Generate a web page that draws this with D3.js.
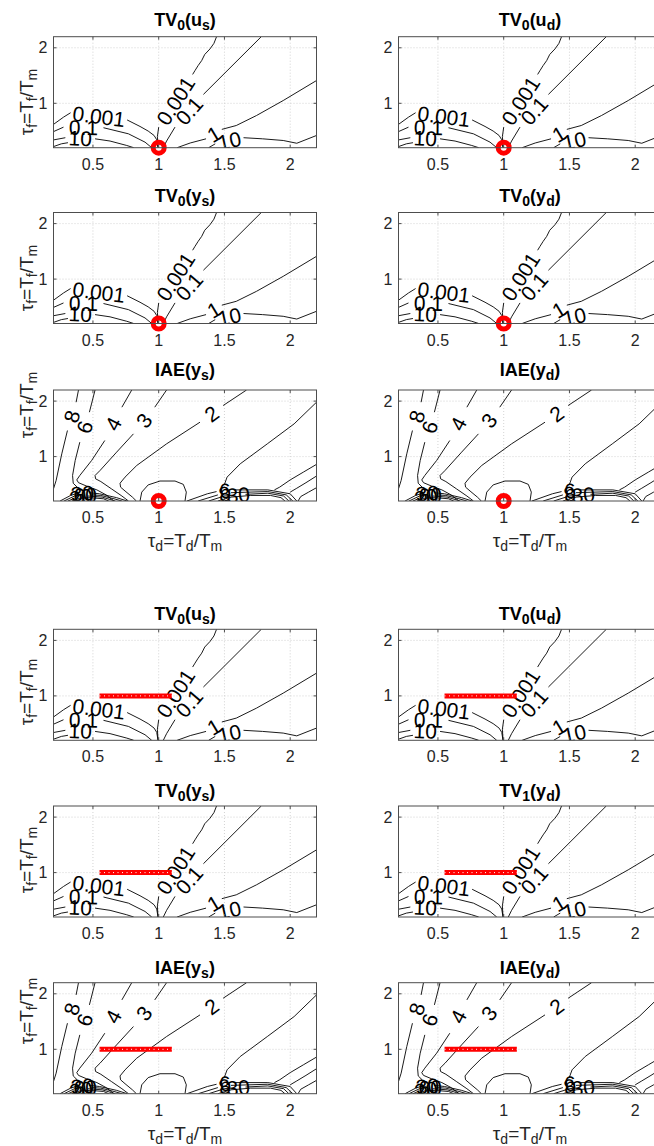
<!DOCTYPE html>
<html>
<head>
<meta charset="utf-8">
<script src="https://cdn.jsdelivr.net/npm/d3@7"></script>
<style>
  body { margin: 0; background: #fff; }
  text { font-family: "Liberation Sans", Arial, Helvetica, sans-serif; }
</style>
</head>
<body>
<svg id="fig" width="654" height="1146"></svg>
<script>
// axis setup (same for every panel)
const axisDomain = [0.2, 2.2];
const xTicks = [0.5, 1, 1.5, 2];
const yTicks = [1, 2];

// panel titles, row by row (left, right)
const titleNames   = ["TV", "TV", "TV", "TV", "IAE", "IAE", "TV", "TV", "TV", "TV", "IAE", "IAE"];
const titleOrders  = ["0", "0", "0", "0", "", "", "0", "0", "0", "1", "", ""];
const titleSignals = ["u", "u", "y", "y", "y", "y", "u", "u", "y", "y", "y", "y"];
const titleSubs    = ["s", "d", "s", "d", "s", "d", "s", "d", "s", "d", "s", "d"];
const panelKinds   = ["tv", "tv", "tv", "tv", "iae", "iae", "tv", "tv", "tv", "tv", "iae", "iae"];

// tuning marks: a single point (upper group), a range of tau_d at tau_f = 1 (lower group)
const tuningPoint = [1, 0.2];
const tuningRange = [[0.55, 1], [1.1, 1]];

// contour lines, points are [tau_d, tau_f]; null = gap where the level label sits
const tvContours = [
  { level: "0.001", pts: [[1.44, 2.2], [1.42, 2.08], [1.39, 1.98], [1.35, 1.88], [1.327, 1.77], [1.30, 1.68], [1.276, 1.59], [1.258, 1.52], null, [1.0, 0.57], [0.99, 0.40], [0.995, 0.2]] },
  { level: "0.1", pts: [[1.78, 2.2], [1.34, 1.16], null, [1.124, 0.571], [1.06, 0.32], [1.035, 0.2]] },
  { level: "1", pts: [[2.2, 1.41], [1.947, 1.05], [1.744, 0.78], [1.59, 0.60], [1.48, 0.53], null, [1.36, 0.36], [1.24, 0.285], [1.14, 0.2]] },
  { level: "10", pts: [[2.2, 0.42], [2.05, 0.28], [1.947, 0.33], [1.79, 0.36], [1.645, 0.38], null, [1.43, 0.27], [1.38, 0.2]] },
  { level: "0.001", pts: [[0.2, 0.62], [0.276, 0.75], [0.33, 0.83], null, [0.76, 0.70], [0.858, 0.583], [0.92, 0.50], [0.965, 0.42], [0.985, 0.343], [0.995, 0.2]] },
  { level: "0.1", pts: [[0.2, 0.49], [0.276, 0.57], null, [0.58, 0.56], [0.77, 0.45], [0.896, 0.30], [0.947, 0.2]] },
  { level: "10", pts: [[0.2, 0.34], [0.29, 0.38], null, [0.516, 0.36], [0.63, 0.32], [0.757, 0.24], [0.81, 0.2]] },
  { level: "", pts: [[0.2, 0.22], [0.26, 0.27], [0.31, 0.29]] }
];

const iaeContours = [
  { level: "8", pts: [[0.39, 2.2], [0.372, 1.98], null, [0.306, 1.47], [0.263, 1.05], [0.22, 0.57], [0.2, 0.42]] },
  { level: "6", pts: [[0.516, 2.2], [0.473, 1.80], null, [0.40, 1.26], [0.365, 0.93], [0.345, 0.66], [0.35, 0.52], [0.38, 0.45]] },
  { level: "4", pts: [[0.795, 2.2], [0.72, 1.89], null, [0.59, 1.29], [0.49, 0.93], [0.40, 0.66], [0.377, 0.58], [0.39, 0.53], [0.45, 0.47], [0.53, 0.40], [0.60, 0.31], [0.66, 0.2]] },
  { level: "3", pts: [[1.06, 2.2], [0.97, 1.89], null, [0.808, 1.41], [0.68, 1.08], [0.554, 0.75], [0.516, 0.66], [0.52, 0.60], [0.56, 0.55], [0.64, 0.42], [0.72, 0.29], [0.77, 0.2]] },
  { level: "2", pts: [[1.668, 2.2], [1.49, 1.92], null, [1.314, 1.62], [1.06, 1.23], [0.833, 0.84], [0.744, 0.63], [0.706, 0.52], [0.71, 0.45], [0.744, 0.38], [0.80, 0.27], [0.83, 0.2]] },
  { level: "", pts: [[0.858, 0.2], [0.871, 0.36], [0.92, 0.49], [1.01, 0.56], [1.124, 0.56], [1.187, 0.50], [1.21, 0.36], [1.2, 0.2]] },
  { level: "", pts: [[2.2, 1.98], [2.03, 1.59], [1.826, 1.23], [1.62, 0.87], [1.52, 0.63], [1.5, 0.5]] },
  { level: "6", pts: [[1.215, 0.2], [1.37, 0.33], [1.44, 0.37], null, [1.57, 0.40], [1.83, 0.40], [2.0, 0.33], [2.05, 0.2]] },
  { level: "8", pts: [[1.30, 0.2], [1.45, 0.31], null, [1.55, 0.35], [1.83, 0.37], [1.97, 0.31], [2.02, 0.2]] },
  { level: "30", pts: [[1.38, 0.2], [1.5, 0.29], [1.55, 0.30], null, [1.66, 0.32], [1.83, 0.34], [1.95, 0.29], [1.99, 0.2]] },
  { level: "", pts: [[1.45, 0.2], [1.55, 0.27], [1.7, 0.30], [1.85, 0.30], [1.93, 0.26], [1.96, 0.2]] },
  { level: "", pts: [[2.2, 0.86], [2.1, 0.72], [2.0, 0.58], [1.92, 0.45], [1.88, 0.40]] },
  { level: "", pts: [[2.2, 0.65], [2.12, 0.53], [2.05, 0.43], [2.0, 0.36]] },
  { level: "", pts: [[2.2, 0.44], [2.14, 0.36], [2.08, 0.28], [2.06, 0.2]] },
  { level: "30", pts: [[0.25, 0.2], [0.33, 0.30], [0.37, 0.33], null, [0.47, 0.35], [0.55, 0.33], [0.68, 0.26], [0.76, 0.2]] },
  { level: "60", pts: [[0.28, 0.2], [0.36, 0.29], [0.39, 0.30], null, [0.49, 0.31], [0.56, 0.30], [0.66, 0.24], [0.72, 0.2]] },
  { level: "20", pts: [[0.31, 0.2], [0.36, 0.25], null, [0.46, 0.29], [0.57, 0.27], [0.64, 0.22], [0.67, 0.2]] },
  { level: "", pts: [[0.34, 0.2], [0.40, 0.25], [0.48, 0.26], [0.58, 0.24], [0.62, 0.2]] }
];

// layout
const colLeft = [53.5, 398.5];
const rowTop = [36.7, 212.5, 390, 629.3, 806, 982.7];
const titleY = [25.7, 202, 376, 620, 797, 974];
const yLabelY = [102, 278, 405, 692, 860, 1011];
const plotW = 263, plotH = 111;

const svg = d3.select("#fig");

function subText(t, parts, big, small) {
  // parts: [text, isSub]
  let prevSub = false;
  parts.forEach(([s, sub]) => {
    const sp = t.append("tspan").text(s).attr("font-size", sub ? small : big);
    const dy = (sub ? 4 : 0) - (prevSub ? 4 : 0);
    if (dy) sp.attr("dy", dy);
    prevSub = sub;
  });
}

for (let i = 0; i < 12; i++) {
  const row = Math.floor(i / 2), col = i % 2;
  const left = colLeft[col], top = rowTop[row];
  const x = d3.scaleLinear().domain(axisDomain).range([0, plotW]);
  const y = d3.scaleLinear().domain(axisDomain).range([plotH, 0]);
  const g = svg.append("g").attr("transform", `translate(${left},${top})`);

  g.append("clipPath").attr("id", "clip" + i)
    .append("rect").attr("width", plotW).attr("height", plotH);

  // grid
  g.selectAll(".gx").data(xTicks).join("line")
    .attr("x1", d => x(d)).attr("x2", d => x(d)).attr("y1", 0).attr("y2", plotH)
    .attr("stroke", "#c8c8c8").attr("stroke-width", 0.8).attr("stroke-dasharray", "1,2");
  g.selectAll(".gy").data(yTicks).join("line")
    .attr("y1", d => y(d)).attr("y2", d => y(d)).attr("x1", 0).attr("x2", plotW)
    .attr("stroke", "#c8c8c8").attr("stroke-width", 0.8).attr("stroke-dasharray", "1,2");

  // contours
  const contours = panelKinds[i] === "tv" ? tvContours : iaeContours;
  const line = d3.line().defined(d => d !== null).x(d => x(d[0])).y(d => y(d[1]));
  const cg = g.append("g").attr("clip-path", `url(#clip${i})`);
  contours.forEach(c => {
    cg.append("path").attr("d", line(c.pts))
      .attr("fill", "none").attr("stroke", "#000").attr("stroke-width", 0.9);
    c.pts.forEach((p, k) => {
      if (p !== null || !c.level) return;
      const a = c.pts[k - 1], b = c.pts[k + 1];
      const ax = x(a[0]), ay = y(a[1]), bx = x(b[0]), by = y(b[1]);
      let ang = Math.atan2(by - ay, bx - ax) * 180 / Math.PI;
      if (ang > 90) ang -= 180;
      if (ang < -90) ang += 180;
      const mx = (ax + bx) / 2, my = (ay + by) / 2;
      cg.append("text").attr("transform", `translate(${mx},${my}) rotate(${ang})`)
        .attr("text-anchor", "middle").attr("dominant-baseline", "central")
        .attr("font-size", 21).attr("fill", "#000").text(c.level);
    });
  });

  // tuning marks
  if (row < 3) {
    g.append("circle").attr("cx", x(tuningPoint[0])).attr("cy", y(tuningPoint[1])).attr("r", 5.5)
      .attr("fill", "none").attr("stroke", "#ff0000").attr("stroke-width", 5);
  } else {
    const rl = d3.line().x(d => x(d[0])).y(d => y(d[1]));
    g.append("path").attr("d", rl(tuningRange)).attr("stroke", "#ff0000").attr("stroke-width", 5);
    g.append("path").attr("d", rl(tuningRange)).attr("stroke", "#fff").attr("stroke-width", 1)
      .attr("stroke-dasharray", "1,3.5");
  }

  // box + ticks
  g.append("rect").attr("width", plotW).attr("height", plotH)
    .attr("fill", "none").attr("stroke", "#4d4d4d").attr("stroke-width", 1);
  xTicks.forEach(t => {
    g.append("line").attr("x1", x(t)).attr("x2", x(t)).attr("y1", plotH).attr("y2", plotH - 3).attr("stroke", "#4d4d4d");
    g.append("line").attr("x1", x(t)).attr("x2", x(t)).attr("y1", 0).attr("y2", 3).attr("stroke", "#4d4d4d");
    g.append("text").attr("x", x(t)).attr("y", plotH + 22).attr("text-anchor", "middle")
      .attr("font-size", 16).attr("fill", "#262626").text(t);
  });
  yTicks.forEach(t => {
    g.append("line").attr("y1", y(t)).attr("y2", y(t)).attr("x1", 0).attr("x2", 3).attr("stroke", "#4d4d4d");
    g.append("line").attr("y1", y(t)).attr("y2", y(t)).attr("x1", plotW).attr("x2", plotW - 3).attr("stroke", "#4d4d4d");
    g.append("text").attr("x", -6).attr("y", y(t)).attr("text-anchor", "end").attr("dominant-baseline", "central")
      .attr("font-size", 16).attr("fill", "#262626").text(t);
  });

  // title
  const tt = svg.append("text").attr("x", left + plotW / 2).attr("y", titleY[row])
    .attr("text-anchor", "middle").attr("font-weight", "bold").attr("fill", "#000");
  const tparts = [[titleNames[i], false]];
  if (titleOrders[i]) tparts.push([titleOrders[i], true]);
  tparts.push(["(" + titleSignals[i], false], [titleSubs[i], true], [")", false]);
  subText(tt, tparts, 18, 14);

  // axis labels
  if (col === 0) {
    const yl = svg.append("text").attr("transform", `translate(33,${yLabelY[row]}) rotate(-90)`)
      .attr("text-anchor", "middle").attr("fill", "#262626");
    subText(yl, [["τ", false], ["f", true], ["=T", false], ["f", true], ["/T", false], ["m", true]], 19, 14);
  }
  if (row === 2 || row === 5) {
    const xl = svg.append("text").attr("x", left + plotW / 2).attr("y", top + plotH + 46)
      .attr("text-anchor", "middle").attr("fill", "#262626");
    subText(xl, [["τ", false], ["d", true], ["=T", false], ["d", true], ["/T", false], ["m", true]], 19, 14);
  }
}
</script>
</body>
</html>
